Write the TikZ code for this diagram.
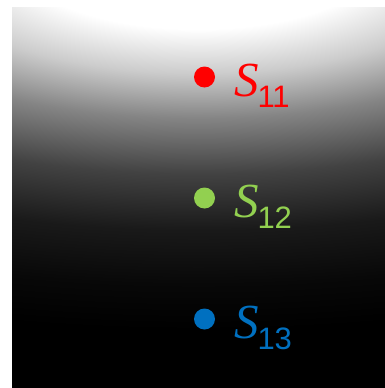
\documentclass[tikz,border=0pt]{standalone}
\usepackage{fontspec}
\setmainfont{Liberation Serif}
\setsansfont{Liberation Sans}
\pgfdeclareradialshading{bgglow}{\pgfpoint{0bp}{0bp}}{%
  color(0bp)=(white);
  color(5.2bp)=(white);
  color(8.1bp)=(white!80!black);
  color(11.05bp)=(white!52!black);
  color(14.7bp)=(white!26!black);
  color(18.4bp)=(white!10!black);
  color(22.05bp)=(white!3!black);
  color(25bp)=(black);
  color(50bp)=(black)}
\definecolor{sred}{RGB}{255,0,0}
\definecolor{sgreen}{RGB}{146,208,80}
\definecolor{sblue}{RGB}{0,112,192}
\tikzset{
  dotmark/.style={circle,inner sep=0pt,minimum size=21pt},
  slabel/.style={anchor=base west,inner sep=0pt,outer sep=0pt}
}
\newcommand{\slab}[1]{{\fontsize{49}{49}\selectfont\itshape S}\kern-1pt\raisebox{-11pt}{\fontsize{31}{31}\selectfont\sffamily #1}}
\begin{document}
\begin{tikzpicture}[x=1pt,y=-1pt]
\useasboundingbox (0,0) rectangle (385,388);
\fill[black] (12,7) rectangle (385,388);
\begin{scope}
  \clip (12,7) rectangle (385,388);
  \shade[shading=bgglow] (198,-50) ellipse (910 and 380);
\end{scope}
\node[dotmark,fill=sred] (d1) at (204.5,77) {};
\node[dotmark,fill=sgreen] (d2) at (204.5,198) {};
\node[dotmark,fill=sblue] (d3) at (204.5,319) {};
\node[slabel,text=sred] (l1) at (234,96) {\slab{11}};
\node[slabel,text=sgreen] (l2) at (234,217) {\slab{12}};
\node[slabel,text=sblue] (l3) at (234,338) {\slab{13}};
\end{tikzpicture}
\end{document}
